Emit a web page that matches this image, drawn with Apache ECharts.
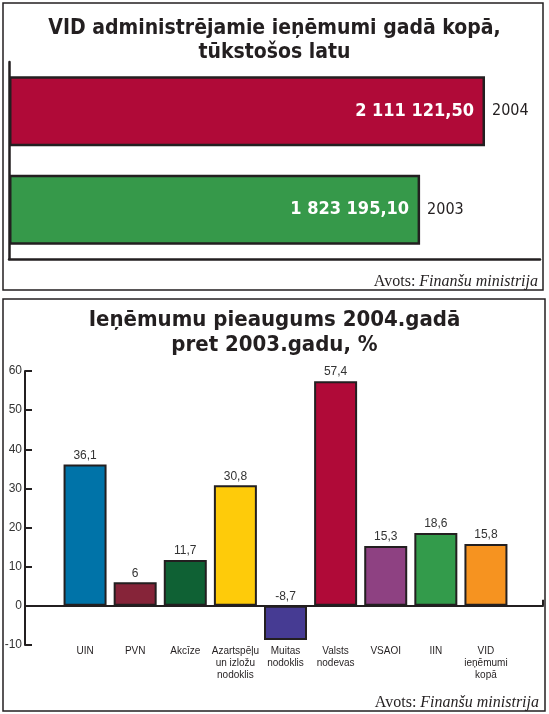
<!DOCTYPE html>
<html>
<head>
<meta charset="utf-8">
<script src="https://cdn.jsdelivr.net/npm/echarts@6/dist/echarts.min.js"></script>
<style>
html,body{margin:0;padding:0;background:#fff;}
#c{width:549px;height:714px;}
</style>
</head>
<body>
<div id="c"></div>
<script>
// ---- data ----
const topYears = ['2003', '2004'];
const topValues = [1823195.10, 2111121.50];
const topColors = ['#36994a', '#b00a38'];

const categories = ['UIN', 'PVN', 'Akcīze', 'Azartspēļu\nun izložu\nnodoklis', 'Muitas\nnodoklis', 'Valsts\nnodevas', 'VSAOI', 'IIN', 'VID\nieņēmumi\nkopā'];
const growth = [36.1, 6, 11.7, 30.8, -8.7, 57.4, 15.3, 18.6, 15.8];
const barColors = ['#0073a8', '#862439', '#0f6134', '#fecb0a', '#463b93', '#b00a38', '#8e4182', '#339b4b', '#f69320'];
const yMin = -10, yMax = 60, yStep = 10;

const NARROW = "'DejaVu Sans Condensed', 'Liberation Sans Narrow', 'Liberation Sans', sans-serif";
const SANS = "'Liberation Sans', Arial, sans-serif";
const SERIF = "'Liberation Serif', 'DejaVu Serif', serif";
const INK = '#231f20';

function fmtTop(v) {
  return v.toFixed(2).replace('.', ',').replace(/\B(?=(\d{3})+(?!\d))/g, ' ');
}
function fmtPct(v) { return String(v).replace('.', ','); }

const chart = echarts.init(document.getElementById('c'), null, {renderer: 'canvas'});

const sourceRich = {
  a: {fontFamily: SERIF, fontSize: 16, fontWeight: 'normal', color: INK},
  b: {fontFamily: SERIF, fontSize: 16, fontWeight: 'normal', fontStyle: 'italic', color: INK}
};

chart.setOption({
  animation: false,
  backgroundColor: '#fff',
  title: [
    {
      text: 'VID administrējamie ieņēmumi gadā kopā,\ntūkstošos latu',
      left: 'center', top: 12,
      textStyle: {fontFamily: NARROW, fontWeight: 'bold', fontSize: 21, lineHeight: 24, color: INK}
    },
    {
      text: '{a|Avots: }{b|Finanšu ministrija}',
      right: 6, top: 269,
      textStyle: {fontWeight: 'normal', rich: sourceRich}
    },
    {
      text: 'Ieņēmumu pieaugums 2004.gadā\npret 2003.gadu, %',
      left: 'center', top: 303,
      textStyle: {fontFamily: NARROW, fontWeight: 'bold', fontSize: 22, lineHeight: 25, color: INK}
    },
    {
      text: '{a|Avots: }{b|Finanšu ministrija}',
      right: 5, top: 690,
      textStyle: {fontWeight: 'normal', rich: sourceRich}
    }
  ],
  graphic: [
    {type: 'rect', shape: {x: 3, y: 3, width: 540, height: 287}, style: {fill: 'none', stroke: INK, lineWidth: 1.5}, silent: true},
    {type: 'rect', shape: {x: 3, y: 299, width: 542, height: 412}, style: {fill: 'none', stroke: INK, lineWidth: 1.5}, silent: true}
  ],
  grid: [
    {left: 9, right: 9, top: 62, bottom: 455},
    {left: 60, right: 38, top: 371, bottom: 69},
    {left: 25, right: 6, top: 371, bottom: 69}
  ],
  xAxis: [
    {
      gridIndex: 0, type: 'value', min: 0, max: 2355000,
      axisLine: {show: true, lineStyle: {color: INK, width: 2.5}},
      axisTick: {show: false}, axisLabel: {show: false}, splitLine: {show: false}
    },
    {
      gridIndex: 1, type: 'category', data: categories,
      axisLine: {show: false, onZero: false}, axisTick: {show: false},
      axisLabel: {interval: 0, margin: 0, fontFamily: SANS, fontSize: 10, lineHeight: 12, color: INK}
    },
    {
      gridIndex: 2, type: 'value', min: 0, max: 1, interval: 1,
      axisLine: {show: true, onZero: true, lineStyle: {color: INK, width: 2}},
      axisTick: {show: true, inside: true, length: 6, lineStyle: {color: INK, width: 2}},
      axisLabel: {show: false}, splitLine: {show: false}
    }
  ],
  yAxis: [
    {
      gridIndex: 0, type: 'category', data: topYears,
      axisLine: {show: true, lineStyle: {color: INK, width: 2.5}},
      axisTick: {show: false}, axisLabel: {show: false}
    },
    {
      gridIndex: 1, type: 'value', min: yMin, max: yMax, interval: yStep, show: false
    },
    {
      gridIndex: 2, type: 'value', min: yMin, max: yMax, interval: yStep,
      axisLine: {show: true, lineStyle: {color: INK, width: 2}},
      axisTick: {show: true, inside: true, length: 7, lineStyle: {color: INK, width: 2}},
      axisLabel: {margin: 3, fontFamily: SANS, fontSize: 12, color: '#333'},
      splitLine: {show: false}
    }
  ],
  series: [
    {
      type: 'bar', xAxisIndex: 0, yAxisIndex: 0,
      data: topValues.map((v, i) => ({value: v, itemStyle: {color: topColors[i]}})),
      barWidth: 70,
      itemStyle: {borderColor: INK, borderWidth: 2.5},
      label: {
        show: true, position: 'insideRight', distance: 11,
        formatter: p => fmtTop(p.value),
        fontFamily: NARROW, fontWeight: 'bold', fontSize: 18, color: '#fff'
      }
    },
    {
      type: 'bar', xAxisIndex: 0, yAxisIndex: 0,
      data: topValues, barWidth: 70, barGap: '-100%', silent: true,
      itemStyle: {color: 'transparent'},
      label: {
        show: true, position: 'right', distance: 7,
        formatter: p => p.name,
        fontFamily: NARROW, fontSize: 16, color: INK
      }
    },
    {
      type: 'bar', xAxisIndex: 1, yAxisIndex: 1,
      data: growth.map((v, i) => ({value: v, itemStyle: {color: barColors[i]}})),
      barWidth: 43,
      itemStyle: {borderColor: INK, borderWidth: 2},
      label: {
        show: true, position: 'top', distance: 3,
        formatter: p => fmtPct(p.value),
        fontFamily: SANS, fontSize: 12, color: '#333'
      }
    }
  ]
});
</script>
</body>
</html>
